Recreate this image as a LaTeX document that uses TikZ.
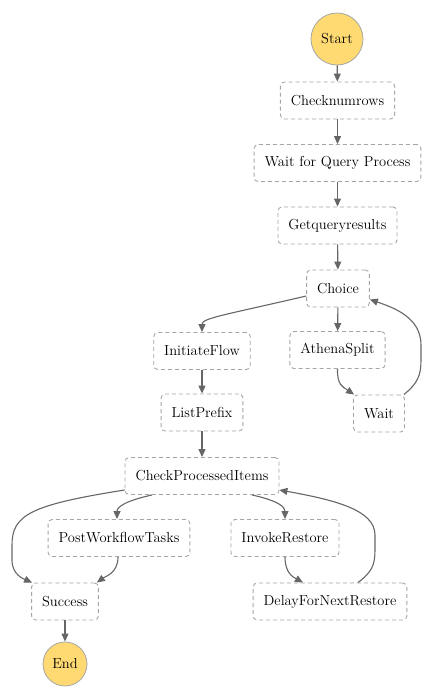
\documentclass[tikz,border=0pt]{standalone}
\usetikzlibrary{arrows.meta}
\definecolor{startfill}{RGB}{255,218,115}
\definecolor{edgegray}{RGB}{102,102,102}
\definecolor{boxgray}{RGB}{165,165,165}
\begin{document}
\begin{tikzpicture}[x=1pt, y=-1pt,
    font=\fontsize{14.5}{17}\selectfont,
    state/.style={draw=boxgray, dash pattern=on 4pt off 3pt, rounded corners=4pt,
        line width=0.9pt, minimum height=37pt, inner xsep=10.5pt, fill=white},
    terminal/.style={circle, draw=boxgray, fill=startfill, line width=0.8pt, inner sep=0pt},
    flow/.style={draw=edgegray, line width=1.1pt, -{Triangle[length=8pt,width=7pt]}}]
    % Rahmen festlegen
    \useasboundingbox (0,0) rectangle (433,699);

    % Start und oberer Strang
    \node[terminal, minimum size=52pt] (start) at (337,39) {Start};
    \node[state] (checknum) at (337.5,100.5) {Checknumrows};
    \node[state] (waitquery) at (337.5,163) {Wait for Query Process};
    \node[state] (getresults) at (337.5,225.5) {Getqueryresults};
    \node[state] (choice) at (338,288.5) {Choice};

    % Schleife rechts
    \node[state] (athena) at (337.5,350) {AthenaSplit};
    \node[state] (wait) at (379,413.5) {Wait};

    % linker Strang
    \node[state] (initflow) at (202,351) {InitiateFlow};
    \node[state] (listprefix) at (202,412.5) {ListPrefix};
    \node[state] (checkitems) at (202,476) {CheckProcessedItems};

    % untere Ebene
    \node[state] (posttasks) at (119,538) {PostWorkflowTasks};
    \node[state] (invoke) at (285,538) {InvokeRestore};
    \node[state] (success) at (65,601.5) {Success};
    \node[state] (delay) at (330,601.5) {DelayForNextRestore};
    \node[terminal, minimum size=44pt] (end) at (65,664) {End};

    % gerade Verbindungen
    \draw[flow] (start) -- (checknum);
    \draw[flow] (checknum) -- (waitquery);
    \draw[flow] (waitquery) -- (getresults);
    \draw[flow] (getresults) -- (choice);
    \draw[flow] (choice) -- (athena);
    \draw[flow] (initflow) -- (listprefix);
    \draw[flow] (listprefix) -- (checkitems);
    \draw[flow] (success) -- (end);

    % gebogene Verbindungen
    \draw[flow] ([yshift=-7.5pt]choice.west) .. controls (225,315) and (202,318) .. (initflow.north);
    \draw[flow] (athena.south) .. controls (337,385) and (343,387) .. ([xshift=1pt]wait.north west);
    \draw[flow] ([xshift=-1pt]wait.north east) .. controls (418,383) and (421,375) .. (421,360)
        -- (421,345) .. controls (421,318) and (395,308) .. ([yshift=-11pt]choice.east);

    \draw[flow] ([yshift=-14pt]checkitems.west) .. controls (30,505) and (12,515) .. (12,545)
        -- (12,560) .. controls (12,575) and (24,579) .. ([xshift=1pt]success.north west);
    \draw[flow] ([xshift=-50pt]checkitems.south) .. controls (125,501) and (117,507) .. ([xshift=-2pt]posttasks.north);
    \draw[flow] ([xshift=50pt]checkitems.south) .. controls (279,501) and (285,507) .. (invoke.north);
    \draw[flow] ([xshift=-1pt]posttasks.south) .. controls (118,573) and (106,576) .. ([xshift=-2pt]success.north east);
    \draw[flow] (invoke.south) .. controls (285,573) and (293,577) .. ([xshift=-27pt]delay.north);
    \draw[flow] ([xshift=28pt]delay.north) .. controls (372,572) and (375,565) .. (375,550)
        -- (375,535) .. controls (375,510) and (335,500) .. ([yshift=-14pt]checkitems.east);
\end{tikzpicture}
\end{document}
